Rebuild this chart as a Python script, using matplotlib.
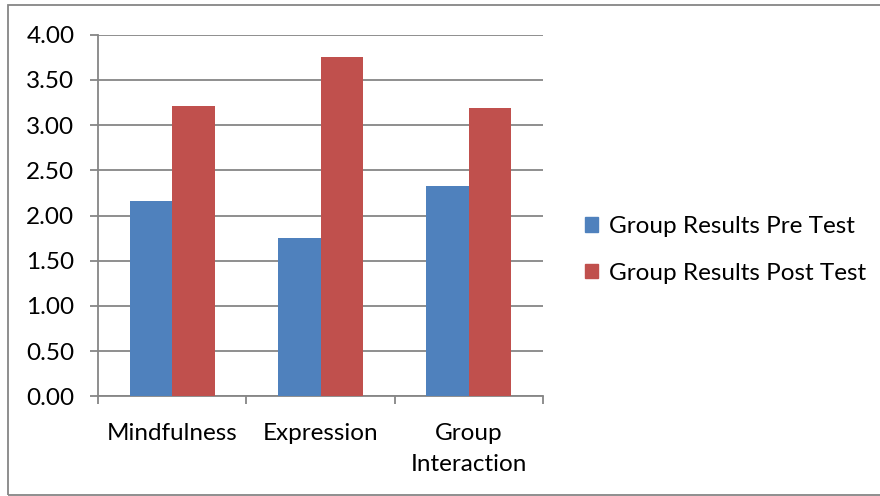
import numpy as np
import matplotlib.pyplot as plt
from matplotlib.patches import Rectangle, Patch

categories = ["Mindfulness", "Expression", "Group\nInteraction"]
pre_test = [2.16, 1.75, 2.33]
post_test = [3.21, 3.75, 3.19]
series_names = ["Group Results Pre Test", "Group Results Post Test"]
yticks = [0.0, 0.5, 1.0, 1.5, 2.0, 2.5, 3.0, 3.5, 4.0]

blue = "#4F81BD"
red = "#C0504D"
grid_c = "#868686"
fs = 17.5

plt.rcParams['font.family'] = ['Lato', 'DejaVu Sans']

fig = plt.figure(figsize=(8.8, 4.96), dpi=100)
ax = fig.add_axes([98/880, 1 - 396.3/496, 445/880, 361.6/496])

x = np.arange(len(categories))
w = 1 / 3.5
ax.bar(x - w/2, pre_test, w, color=blue, label=series_names[0], zorder=3)
ax.bar(x + w/2, post_test, w, color=red, label=series_names[1], zorder=3)

ax.set_xlim(-0.5, 2.5)
ax.set_ylim(0, 4)
ax.set_yticks(yticks)
ax.set_yticklabels([f"{v:.2f}" for v in yticks], fontsize=fs)
ax.yaxis.grid(True, color=grid_c, linewidth=1.3, zorder=0)
ax.tick_params(axis='y', length=6, width=1.3, color=grid_c, pad=11)

# category labels centred, tick marks at the boundaries
ax.set_xticks(x)
ax.set_xticklabels(categories, fontsize=fs, linespacing=1.6)
ax.tick_params(axis='x', length=0, pad=19)
ax.set_xticks([-0.5, 0.5, 1.5, 2.5], minor=True)
ax.tick_params(axis='x', which='minor', length=6, width=1.3, color=grid_c)

for s in ['top', 'right']:
    ax.spines[s].set_visible(False)
for s in ['left', 'bottom']:
    ax.spines[s].set_color(grid_c)
    ax.spines[s].set_linewidth(1.3)

handles = [Patch(color=blue), Patch(color=red)]
fig.legend(handles, series_names, loc='center left', bbox_to_anchor=(563/880, 1 - 250/496),
           frameon=False, fontsize=fs, handlelength=0.55, handleheight=0.55,
           handletextpad=0.45, labelspacing=1.05)

# outer chart border
fig.patches.append(Rectangle((8/880, 1 - 495/496), 1.0, 490/496, transform=fig.transFigure,
                             fill=False, edgecolor=grid_c, linewidth=1.3))

fig.savefig("out.png", dpi=100)
